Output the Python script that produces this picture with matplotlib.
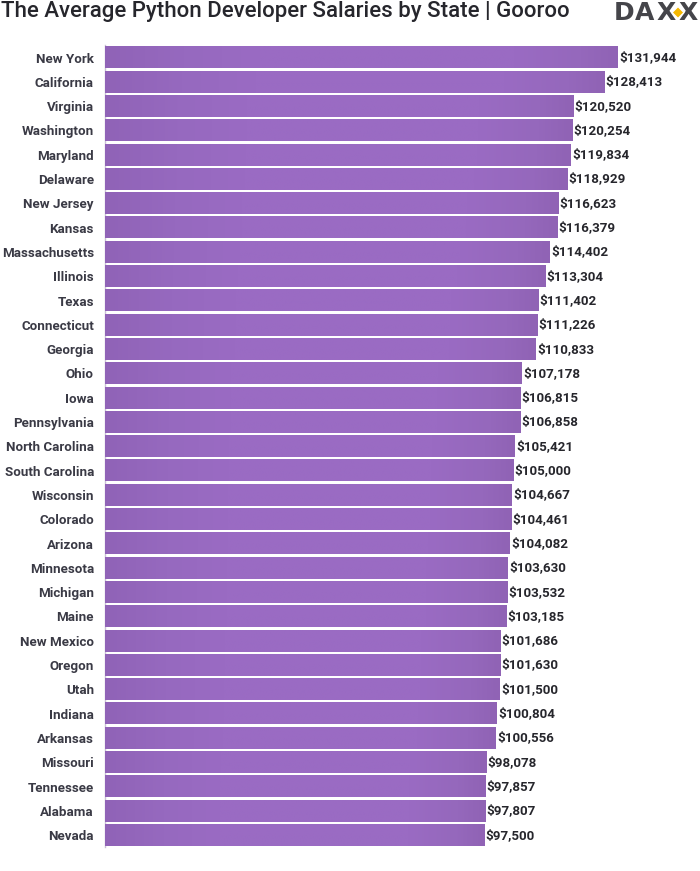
import matplotlib
matplotlib.use("Agg")
import matplotlib.pyplot as plt
import numpy as np
from matplotlib.colors import LinearSegmentedColormap
from matplotlib.patches import Polygon

states = ["New York", "California", "Virginia", "Washington", "Maryland", "Delaware",
          "New Jersey", "Kansas", "Massachusetts", "Illinois", "Texas", "Connecticut",
          "Georgia", "Ohio", "Iowa", "Pennsylvania", "North Carolina", "South Carolina",
          "Wisconsin", "Colorado", "Arizona", "Minnesota", "Michigan", "Maine",
          "New Mexico", "Oregon", "Utah", "Indiana", "Arkansas", "Missouri",
          "Tennessee", "Alabama", "Nevada"]
salaries = [131944, 128413, 120520, 120254, 119834, 118929, 116623, 116379, 114402,
            113304, 111402, 111226, 110833, 107178, 106815, 106858, 105421, 105000,
            104667, 104461, 104082, 103630, 103532, 103185, 101686, 101630, 101500,
            100804, 100556, 98078, 97857, 97807, 97500]

plt.rcParams['font.family'] = ['Roboto', 'DejaVu Sans']

W, H = 700, 871
BAR_H = 0.89
fig = plt.figure(figsize=(W / 100, H / 100), dpi=100)

# axes run from the bar baseline to the right edge of the figure
ax = fig.add_axes([105 / W, (H - 847.3) / H, (W - 105) / W, 801.9 / H])
ypos = list(range(len(states)))
ax.barh(ypos, salaries, height=BAR_H, color="#9568bd", zorder=2)

# bars are a little darker at both ends in the reference
grad = LinearSegmentedColormap.from_list("bar", [(0, "#9063b7"), (0.15, "#9669bf"), (0.3, "#9a6bc3"),
                                                 (0.8, "#9a6bc3"), (0.93, "#9568bc"), (1, "#9063b5")])
strip = np.linspace(0, 1, 200).reshape(1, -1)
for y, v in zip(ypos, salaries):
    ax.imshow(strip, cmap=grad, aspect="auto", zorder=3, interpolation="bilinear",
              extent=(0, v, y + BAR_H / 2, y - BAR_H / 2))

ax.set_xlim(0, 595 / 0.003888)
ax.set_ylim(len(states) - 0.5, -0.5)

ax.set_yticks(ypos)
ax.set_yticklabels(states, fontsize=9.6, fontweight="bold", color="#3a3a45")
ax.tick_params(axis="y", length=0, pad=8)
ax.set_xticks([])
for s in ["top", "right", "bottom"]:
    ax.spines[s].set_visible(False)
ax.spines["left"].set_color("#c9c0d4")
ax.spines["left"].set_linewidth(1)

for y, v in zip(ypos, salaries):
    ax.annotate("${:,}".format(v), (v, y), xytext=(0.9, 0), textcoords="offset points",
                va="center", ha="left", fontsize=9.6, fontweight="bold", color="#26262c")

fig.text(1 / W, 1 - 11.5 / H, "The Average Python Developer Salaries by State | Gooroo",
         fontsize=16, fontweight="medium", color="#26262c", va="center", ha="left")

# DAXX logo: separate letters plus the yellow diamond between the two X
for letter, cx in zip("DAXX", [624, 645, 666, 688]):
    fig.text(cx / W, 1 - 12.5 / H, letter, fontsize=18, fontweight="bold", color="#45454a",
             va="center", ha="center", family=["DejaVu Sans"])
diamond = [(678, 6.5), (684, 12.5), (678, 18.5), (672, 12.5)]
fig.add_artist(Polygon([(x / W, 1 - y / H) for x, y in diamond], closed=True, transform=fig.transFigure,
                       facecolor="#f5b800", edgecolor="white", linewidth=1, zorder=5))

fig.savefig("out.png", dpi=100, facecolor="white")
